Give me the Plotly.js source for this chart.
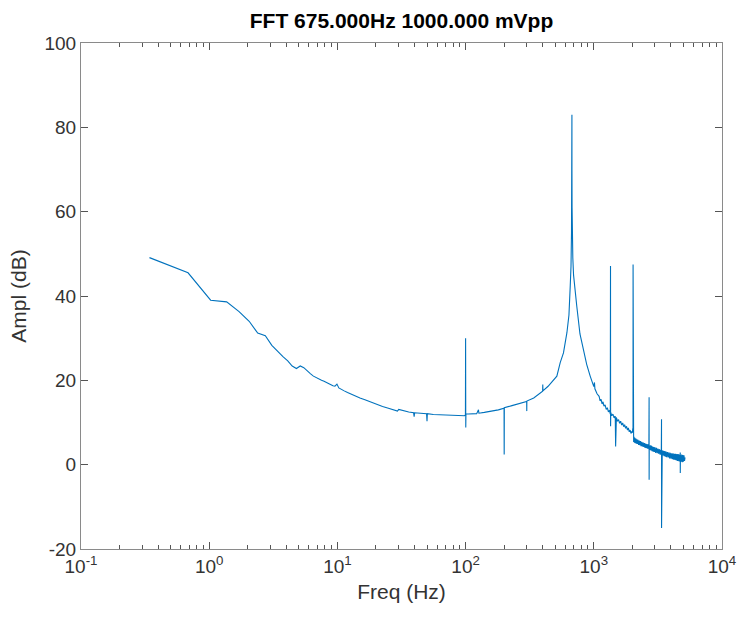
<!DOCTYPE html>
<html>
<head>
<meta charset="utf-8">
<script src="https://cdn.plot.ly/plotly-3.0.1.min.js"></script>
<style>html,body{margin:0;padding:0;background:#fff;}#chart{width:740px;height:619px;}</style>
</head>
<body>
<div id="chart"></div>
<script>
// Low-frequency part (Hz, dB)
const lowFreq = [0.342,0.684,1.026,1.368,1.71,2.05,2.39,2.74,3.08,3.42,3.76,4.10,4.44,4.79,5.13,5.47,5.81,6.15,6.50,6.84,7.18,7.52,7.87,8.21,8.55,8.89,9.23,9.57,9.92,10.26,10.6,11.3,12.0,13.0,14.0,15.0,16.4,18.0,20.0,22.5,25.0,28.0,29.4,30.1,33.0,36.0,39.3,39.7,40.0,44.0,49.6,50.0,50.3,56.0,63.0,71.0,80.0,90.0,98.0];
const lowAmp  = [49.1,45.5,39.0,38.6,36.3,34.0,31.2,30.6,28.3,26.8,25.6,24.6,23.4,22.8,23.4,23.0,22.2,21.6,21.0,20.6,20.2,20.0,19.8,19.5,19.2,18.9,18.7,18.6,19.1,18.2,17.9,17.5,17.1,16.6,16.2,15.8,15.4,14.9,14.3,13.8,13.4,13.0,12.7,13.1,12.7,12.5,12.3,11.4,12.3,12.2,12.1,10.3,12.1,11.9,11.8,11.7,11.6,11.6,11.6];

// Mains harmonics and the 675 Hz resonance
const midFreq = [99.7,100.0,100.3,100.6,105,112,122,126,127,140,160,180,199.5,200,200.5,230,260,290,299.5,300,300.5,340,380,399,400,401,440,480,515,547,580,617,640,655,664,670,673,674.5,675,675.5,677,680,686,695,710,737,780,828,880,937,1000,1012,1020,1060];
const midAmp  = [11.8,30.0,8.8,12.0,12.0,12.1,12.1,13.0,12.2,12.4,12.7,13.0,13.4,2.4,13.5,14.0,14.4,14.8,15.0,12.7,15.1,15.8,16.8,17.4,19.0,17.5,18.6,20.0,21.0,24.2,26.5,31.3,35.5,42.4,47.0,55.0,62.0,70.0,83.0,70.0,61.0,54.0,49.0,45.0,41.5,37.5,31.0,27.3,23.8,21.0,18.5,19.5,18.0,16.8];

// Noisy high-frequency tail with harmonics of 675 Hz
const highFreq = [1100,1120,1140,1160,1180,1200,1225,1250,1275,1300,1325,1345,1350,1352,1356,1380,1410,1440,1470,1480,1482,1500,1530,1560,1590,1620,1650,1680,1710,1740,1770,1800,1830,1860,1890,1920,1950,1975,2000,2015,2022,2025,2027,2030,2045,2060,2075,2090,2110,2130,2150,2170,2190,2210,2235,2260,2285,2310,2335,2360,2390,2420,2450,2480,2510,2540,2570,2600,2630,2660,2690,2700,2702,2706,2730,2760,2790,2820,2850,2880,2910,2940,2970,3000,3040,3080,3120,3160,3200,3240,3280,3320,3360,3375,3377,3380,3420,3460,3500,3540,3580,3620,3660,3700,3750,3800,3850,3900,3950,4000,4050,4100,4150,4200,4250,4300,4350,4400,4450,4500,4550,4600,4650,4700,4725,4727,4740,4800,4850,4900,4950,5000,5050,5100,5150];
const highAmp  = [16.2,15.1,15.5,14.4,14.9,13.9,14.2,13.1,13.5,12.5,12.9,12.0,47.1,9.1,12.4,11.6,12.0,11.1,11.5,4.3,11.0,11.2,10.3,10.7,9.8,10.3,9.4,9.9,9.0,9.5,8.6,9.1,8.2,8.7,7.8,8.2,7.4,7.9,7.6,8.6,8.0,47.5,6.2,6.9,5.4,6.6,5.2,6.4,5.1,6.2,5.0,6.0,4.9,5.9,4.7,5.7,4.6,5.6,4.4,5.4,4.3,5.3,4.2,5.1,4.0,5.0,3.9,4.9,3.8,4.8,3.7,16.0,-3.6,4.1,3.5,4.6,3.4,4.5,3.2,4.3,3.1,4.2,3.0,4.1,2.8,4.0,2.7,3.8,2.6,3.7,2.4,3.5,2.3,10.8,-15.0,2.9,3.4,2.2,3.3,2.0,3.2,1.9,3.1,1.8,3.0,1.7,2.9,1.5,2.8,1.4,2.7,1.3,2.7,1.2,2.6,1.1,2.6,1.0,2.5,0.9,2.5,0.8,2.4,0.7,2.9,-2.0,2.3,0.7,2.4,0.6,2.3,0.7,2.2,0.9,1.7];

const xTickVals = [0.1,1,10,100,1000,10000];
const xTickText = ['10<sup>-1</sup>','10<sup>0</sup>','10<sup>1</sup>','10<sup>2</sup>','10<sup>3</sup>','10<sup>4</sup>'];
const yTickVals = [-20,0,20,40,60,80,100];
const yTickText = ['-20','0','20','40','60','80','100'];

const minorVals = [];
for (let d = -1; d < 4; d++) for (let m = 2; m <= 9; m++) minorVals.push(m * Math.pow(10, d));

const freq = lowFreq.concat(midFreq, highFreq);
const ampl = lowAmp.concat(midAmp, highAmp);

const FONT = '"Liberation Sans", Arial, Helvetica, sans-serif';
const axisCommon = {
  showline: true, linecolor: '#8a8a8a', linewidth: 1, mirror: 'ticks',
  ticks: 'inside', ticklen: 7, tickcolor: '#555', tickwidth: 1,
  showgrid: false, zeroline: false, automargin: false,
  tickfont: {family: FONT, size: 19, color: '#333'}
};

const trace = {
  x: freq, y: ampl, type: 'scatter', mode: 'lines',
  line: {color: '#0072BD', width: 1.1}, hoverinfo: 'skip'
};

const layout = {
  width: 740, height: 619,
  margin: {l: 81, r: 18, t: 43, b: 70},
  paper_bgcolor: '#fff', plot_bgcolor: '#fff',
  showlegend: false,
  font: {family: FONT, color: '#262626'},
  title: {text: 'FFT 675.000Hz 1000.000 mVpp', x: 0.5, xref: 'paper', y: 1 - 21/619, yref: 'container', yanchor: 'middle',
          font: {family: FONT, size: 21, weight: 700, color: '#000'}},
  xaxis: Object.assign({}, axisCommon, {
    type: 'log', range: [-1, 4],
    tickmode: 'array', tickvals: xTickVals, ticktext: xTickText,
    minor: {tickmode: 'array', tickvals: minorVals, ticks: 'inside', ticklen: 4, tickcolor: '#555', showgrid: false},
    title: {text: 'Freq (Hz)', standoff: 8, font: {family: FONT, size: 21, color: '#333'}}
  }),
  yaxis: Object.assign({}, axisCommon, {
    range: [-20, 100], tickmode: 'array', tickvals: yTickVals, ticktext: yTickText,
    title: {text: 'Ampl (dB)', standoff: 12, font: {family: FONT, size: 21, color: '#333'}}
  })
};

Plotly.newPlot('chart', [trace], layout, {staticPlot: true, displayModeBar: false});
</script>
</body>
</html>
